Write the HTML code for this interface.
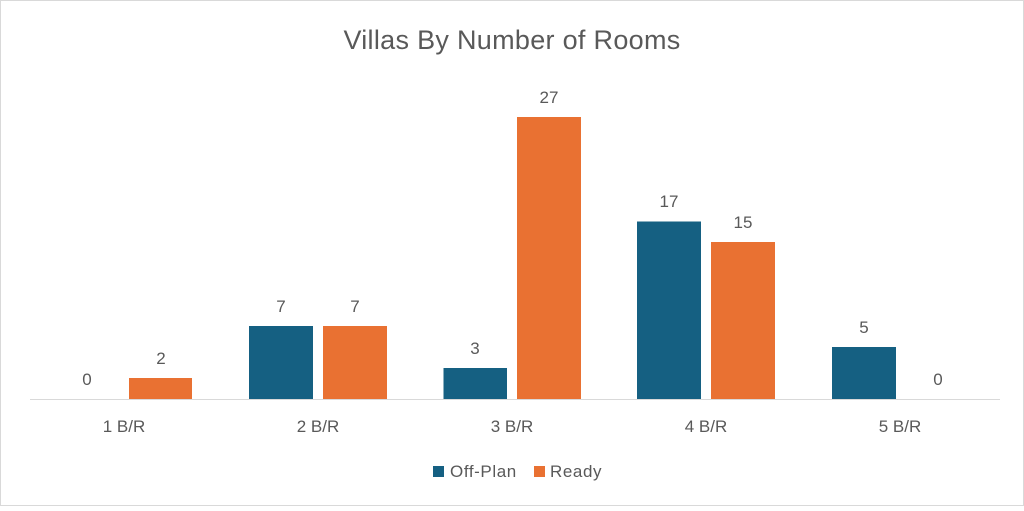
<!DOCTYPE html>
<html><head><style>
body{margin:0;background:#fff;}
svg text{font-family:"Liberation Sans",sans-serif;fill:#595959;}
</style></head><body>
<svg width="1024" height="506" xmlns="http://www.w3.org/2000/svg">
<rect x="0.5" y="0.5" width="1023" height="505" fill="#fff" stroke="#d9d9d9"/>
<text x="512" y="49" font-size="27" text-anchor="middle" letter-spacing="0.3">Villas By Number of Rooms</text>
<g fill="#156082">
<rect x="249" y="326" width="64" height="73"/>
<rect x="443.5" y="368" width="63.5" height="31"/>
<rect x="637" y="221.5" width="64" height="177.5"/>
<rect x="832" y="347" width="64" height="52"/>
</g>
<g fill="#E97132">
<rect x="129" y="378" width="63" height="21"/>
<rect x="323" y="326" width="64" height="73"/>
<rect x="517" y="117" width="64" height="282"/>
<rect x="711" y="242" width="64" height="157"/>
</g>
<line x1="30" y1="399.5" x2="1000" y2="399.5" stroke="#d9d9d9" stroke-width="1"/>
<g font-size="17" text-anchor="middle">
<text x="87" y="385">0</text><text x="161" y="364">2</text>
<text x="281" y="312">7</text><text x="355" y="312">7</text>
<text x="475" y="354">3</text><text x="549" y="103">27</text>
<text x="669" y="207">17</text><text x="743" y="228">15</text>
<text x="864" y="333">5</text><text x="938" y="385">0</text>
</g>
<g font-size="17" text-anchor="middle">
<text x="124" y="432">1 B/R</text><text x="318" y="432">2 B/R</text>
<text x="512" y="432">3 B/R</text><text x="706" y="432">4 B/R</text>
<text x="900" y="432">5 B/R</text>
</g>
<rect x="433" y="466" width="11" height="11" fill="#156082"/>
<text x="450" y="477" font-size="17" letter-spacing="0.6">Off-Plan</text>
<rect x="534" y="466" width="11" height="11" fill="#E97132"/>
<text x="550" y="477" font-size="17" letter-spacing="0.6">Ready</text>
</svg>
</body></html>
